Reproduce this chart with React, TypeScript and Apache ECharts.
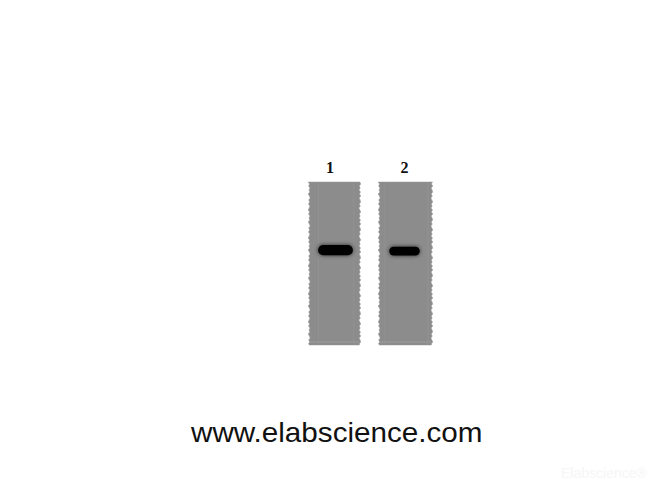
import React, { useEffect, useRef } from "react";
import * as echarts from "echarts";

const laneLabels = ["1", "2"];
const laneSpans = [0.718, 0.746];
const bandPositions = [41.8, 42.4];
const bandThickness = [6.2, 5.4];
const bandWidths = [0.49, 0.43];
const bandShifts = [0.014, -0.014];
const sitePart = "www.elabscience.com";
const watermark = "Elabscience®";

const edgeLeft = [0, 1.4, 0.4, 1.8, 0.8, 1.6, 0, 1.2, 2, 0.5, 1.5, 0.2, 1.7, 1];
const edgeRight = [1, 0, 1.6, 0.6, 1.8, 0.3, 1.4, 0, 1.7, 0.7, 0.1, 1.6, 0.5, 1.9];

function renderLane(params: any, api: any) {
  const cat = api.value(0);
  const top = api.coord([cat, 0]);
  const bottom = api.coord([cat, 100]);
  const unit = api.size([1, 0])[0];
  const half = (laneSpans[cat] * unit) / 2;
  const cx = top[0];
  const y0 = top[1];
  const y1 = bottom[1];
  const leftSide: number[][] = [];
  const rightSide: number[][] = [];
  const step = 2;
  let i = 0;
  for (let y = y0; y < y1; y += step, i++) {
    leftSide.push([cx - half + edgeLeft[i % edgeLeft.length] - 0.8, y]);
    rightSide.push([cx + half - edgeRight[(i + cat * 5) % edgeRight.length] + 0.8, y]);
  }
  leftSide.push([cx - half + 0.5, y1]);
  rightSide.push([cx + half - 0.5, y1]);
  const points = leftSide.concat(rightSide.reverse());
  const stripes =
    cat === 0
      ? [
          { x: cx - half + 9, w: 1.2, o: 0.05 },
          { x: cx + half - 7, w: 1.5, o: 0.04 },
        ]
      : [
          { x: cx - half + 5, w: 1.5, o: 0.03 },
          { x: cx + half - 5, w: 2, o: 0.03 },
        ];
  return {
    type: "group",
    children: [
      { type: "polygon", shape: { points }, style: { fill: "#8c8c8c", stroke: "#969696", lineWidth: 0.5 } },
      ...stripes.map((s) => ({
        type: "rect",
        shape: { x: s.x, y: y0, width: s.w, height: y1 - y0 },
        style: { fill: `rgba(255,255,255,${s.o})` },
      })),
      {
        type: "rect",
        shape: { x: cx - half + 1, y: y1 - 3.5, width: half * 2 - 2, height: 1 },
        style: { fill: "rgba(255,255,255,0.14)" },
      },
    ],
  };
}

function renderBand(params: any, api: any) {
  const cat = api.value(0);
  const c = api.coord([cat, api.value(1)]);
  const h = api.size([0, api.value(2)])[1];
  const w = bandWidths[cat] * api.size([1, 0])[0];
  const cx = c[0] + bandShifts[cat] * api.size([1, 0])[0];
  return {
    type: "group",
    children: [
      {
        type: "rect",
        shape: { x: cx - w / 2, y: c[1] - h / 2, width: w, height: h, r: h / 2 },
        style: { fill: "#060606", shadowBlur: 4, shadowColor: "rgba(0,0,0,0.75)" },
      },
    ],
  };
}

export default function App() {
  const ref = useRef<HTMLDivElement>(null);
  useEffect(() => {
    const chart = echarts.init(ref.current!, undefined, { renderer: "svg" });
    chart.setOption({
      animation: false,
      backgroundColor: "#ffffff",
      grid: { left: 299, top: 182, width: 142, height: 163 },
      xAxis: {
        type: "category",
        position: "top",
        data: laneLabels,
        axisLine: { show: false },
        axisTick: { show: false },
        axisLabel: {
          show: true,
          margin: 7,
          color: "#111111",
          fontFamily: "Liberation Serif",
          fontSize: 16,
          formatter: (v: string, i: number) => `{l${i}|${v}}`,
          rich: {
            l0: { fontFamily: "Liberation Serif", fontSize: 16, fontWeight: "bold", color: "#111111", padding: [0, 9, 0, 0] },
            l1: { fontFamily: "Liberation Serif", fontSize: 16, fontWeight: "bold", color: "#111111", padding: [0, 2, 0, 0] },
          },
        },
      },
      yAxis: { type: "value", min: 0, max: 100, inverse: true, show: false, splitLine: { show: false } },
      series: [
        {
          type: "custom",
          renderItem: renderLane,
          clip: false,
          silent: true,
          data: laneLabels.map((_, i) => [i, 0]),
          z: 1,
        },
        {
          type: "custom",
          renderItem: renderBand,
          clip: false,
          silent: true,
          data: bandPositions.map((p, i) => [i, p, bandThickness[i]]),
          z: 2,
        },
      ],
      graphic: [
        {
          type: "text",
          x: 191,
          y: 419,
          scaleX: 1.098,
          style: {
            text: sitePart,
            fill: "#111111",
            font: "27px 'Liberation Sans'",
          },
        },
        {
          type: "text",
          x: 561,
          y: 466,
          style: {
            text: watermark,
            fill: "#f6f6f6",
            font: "14px 'Liberation Sans'",
          },
        },
      ],
    });
    return () => chart.dispose();
  }, []);
  return <div ref={ref} style={{ position: "absolute", left: 0, top: 0, width: 670, height: 500 }} />;
}
